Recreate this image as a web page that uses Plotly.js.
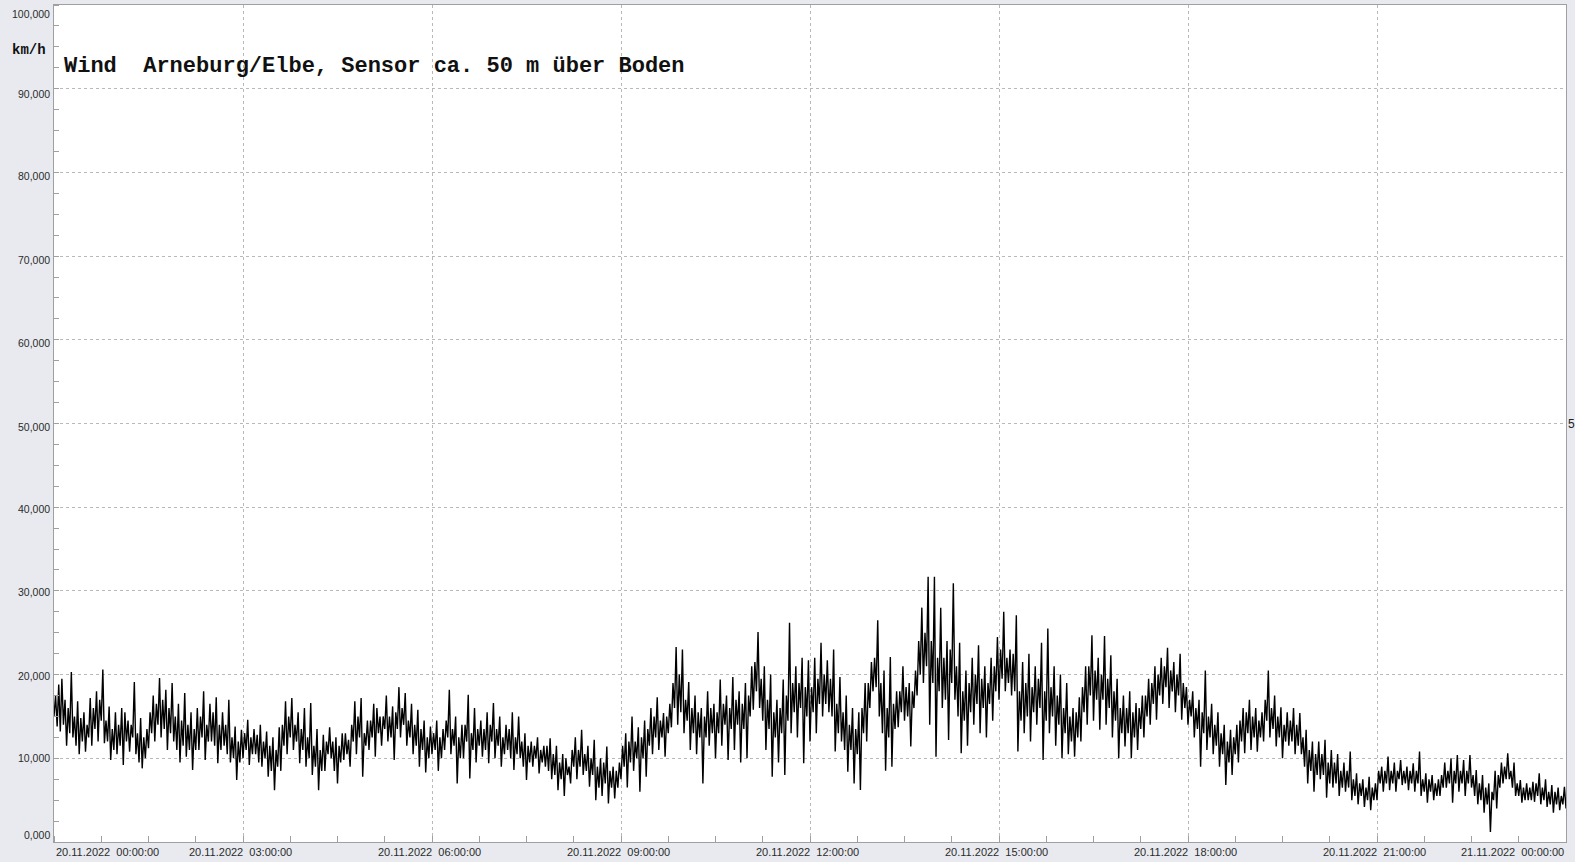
<!DOCTYPE html>
<html>
<head>
<meta charset="utf-8">
<script src="https://cdn.plot.ly/plotly-3.0.1.min.js"></script>
<style>
  html, body { margin: 0; padding: 0; background: #e8eaf0; }
  #chart { width: 1575px; height: 862px; }
</style>
</head>
<body>
<div id="chart"></div>
<script>
// Wind speed (km/h), one reading every 1.5 minutes, grouped in 3-hour blocks
const speed00to03 = [
  15,17.5,13.8,18.8, 13.2,19.5,14,17, 11.5,16,13,20.3, 12.5,15,11.5,16.8, 10.5,14.8,12,15.5,
  10.8,14,12.5,17.2, 11.5,16,13.5,18, 12,17,14.5,20.6, 11.8,14.5,12,16.2, 9.8,13.5,11,15.5,
  10.5,14,11.5,16, 9.2,15.5,12,14.5, 10.8,14,12.5,19.1, 10.5,13,9.5,14.8, 8.8,12.5,10,13.5,
  11.2,15.5,13,17.5, 12,16.5,14,19.6, 12.5,17,13.5,18.2, 11,16,13,19, 12,15,11,16.5,
  9.5,14.5,11.5,17.8, 10.2,14,11,15.5, 8.6,13.5,11,16, 11,15,12.5,18, 9.8,14,12,16.5,
  12,15.5,11.5,17.3, 9.4,14,11,15.5, 11.5,14,10.5,17, 9.5,12.5,10,13.8, 7.4,12,9.5,13.4
];
const speed03to06 = [
  10,13,11,14.6, 9.2,12.5,10.5,13.5, 10.5,12.8,9.5,14, 9,12,10,13.2, 7.8,11.5,8.5,12.5,
  6.2,11,9,13.7, 8.5,14,11.5,16.8, 10.5,15,12.5,17.2, 11,14,12,15.5, 9.4,13.5,11,16,
  9,12.5,10,16.6, 8,11.5,9,13.5, 6.2,11,8.5,12.8, 8.5,12,10.5,13.7, 10,12,8.5,12.5,
  7,11.5,9.5,13, 9.8,13,10.5,12.2, 9,14,12,16.8, 10.5,15,12.5,17.2, 7.8,13,11.5,14.5,
  11,14.5,12.5,16.5, 10.2,16,13,15, 11.5,15,13.5,17.5, 12,15,12.5,16.2, 9.8,15.5,13.5,18.5,
  12.5,16,14,17.8, 11.5,14.5,12.5,16.5, 10.5,14,11.5,15.8, 9,13.5,11,14.5, 8.3,12.5,10,13.8
];
const speed06to09 = [
  10.5,13,11,14.5, 8.5,12.5,10,13.5, 11,14.5,12.5,18.2, 10.5,13.5,11.5,15, 7,12.5,10,14,
  10,14,12,17.6, 7.6,13,11,16, 9.5,13.5,11.5,14.5, 10.2,13.5,11,15.5, 9.4,14,12,16.6,
  10,13.5,11.5,15, 9,12.5,10.5,14, 11,13.5,10,15.5, 8.6,12.5,10.5,15, 10,12,9,13,
  7.4,11.5,9.5,12, 9,11.5,10,12.5, 8.2,11,9.5,11.5, 9,11.5,8.5,12.4, 7.5,10.5,8,11.5,
  6.2,9.5,7.5,10.5, 5.5,10,8,9, 7,11,9,12.5, 7.5,11,9,13.4, 8,10.5,8.5,11.5,
  6.6,10,8,12.2, 5,9,6.5,10, 5.5,9.5,7,11.4, 4.6,8.5,6.5,9, 5.2,8.5,6.5,9.5
];
const speed09to12 = [
  7.5,11.5,9,13, 6.5,12,9.5,15, 8.5,12,10,13.7, 6,12.5,10,14.5, 7.8,13.5,11.5,16,
  10.5,15,12.5,17.3, 11,14.5,12.5,15.4, 10.2,15,13,16.5, 13.7,19,16,23.3, 14,20,15.5,23,
  13,17,14.5,19.1, 11,16,13,17.5, 10.5,15.5,12.5,16, 7,15,12.5,18, 11.5,16,13,16.5,
  10,15.5,13,19.4, 11.5,16.5,14,17.5, 9.8,16,13.5,19.7, 11,17,14,18, 9.5,16.5,13.5,19,
  10,17.5,15,21, 15.8,21.5,18,25.1, 16,19.5,14.5,21, 11,17,13.5,20, 7.8,15.5,12.5,17,
  9.5,16,13,19.4, 8,17.5,14.5,26.2, 13,19,15.5,21, 12.5,19,16,22, 9.4,18.5,15,21.7
];
const speed12to15 = [
  12,18.5,15.5,22, 13,19.5,16.5,23.8, 15,20,16.5,21.7, 15.5,19.5,15,23, 10.8,16.5,13,19.7,
  12,15.5,11,17.5, 8.4,14,11,16, 7,13.5,10.5,15.5, 6.2,16,13,19, 12,19,16,21.5,
  18,22,18.5,26.5, 15,19,13,20.5, 8.5,16,12.5,22.1, 9,16.5,13.5,18, 13.7,18,15.5,21,
  14.5,18.5,15,19, 11.4,18,16,20.5, 17.5,24,20,28, 19,25,21,31.7, 14,24,19,31.7,
  10.2,22,18,28, 16,22,17,24, 12.2,23,19,30.9, 17,21,15,23.8, 10.6,18,14.5,20.5,
  11.5,19,15.5,22, 14,20,16.5,23.5, 13,19.5,16,21, 12.5,19,16.5,22, 14.5,21,18,24.5
];
const speed15to18 = [
  17,23,19.5,27.5, 18,22,19,23, 17.5,22.5,18,27.1, 10.8,18,14.5,21.5, 13,19,15,22.5,
  12,18.5,15.5,21, 14,19.5,16,23.8, 9.8,18,14.5,25.5, 13,18.5,15,21, 11.5,17.5,14,20,
  10,16,13,19, 10.5,15,12,16, 10.2,15.5,12.5,17.3, 12,18.5,15.5,21, 14,21,17.5,24.7,
  14.5,20.5,17,22, 13.4,20,17,24.6, 14,19.5,16,22.3, 12.5,18,14.5,19.5, 10,16,13,17.5,
  11.4,16,13,18, 10,15.5,12.5,16.6, 11,16,13.5,17.5, 12.5,17.5,15,19.5, 14,19,16.5,21,
  14.6,20,17.5,22, 16.5,21,18.5,23.2, 16,20.5,18,21.5, 15.5,20,17.5,22.5, 14.6,19,16,18.5
];
const speed18to21 = [
  14,17,15,18, 12.5,16,13.5,17, 9,15.5,13,20.5, 11,15,12.5,16.5, 10.5,14,11.5,15.5,
  9,13,10.5,14, 6.8,12,9.5,13.4, 8,12.5,10.5,14, 9.5,14.5,12,16, 10.6,15.5,13,17,
  11,15,12.5,16, 10.8,14.5,12.5,15.5, 12,17,14.5,20.5, 12.5,16,13.5,17.5, 11.4,15,12.5,16.1,
  10,14,12,15.5, 11.5,14.5,12,16, 10.5,14,11.5,15.4, 10.5,12.5,9,13.4, 7,11,8.5,12,
  6,10.5,8,12, 7.5,10.5,8,12.2, 5.3,9.5,7,11, 6.5,9.5,7,10.5, 5.5,8.5,6.5,9.5,
  6,8.5,6.5,10.8, 5,7.5,5.5,8.2, 4.5,7,5.5,7.5, 4.2,6.5,5,7.8, 3.8,6.5,5,7
];
const speed21to24 = [
  5,8.5,7,9, 6,8.5,7,10.2, 6.2,8.5,7,9.5, 6,8.5,7.5,9.8, 6.8,8.5,7,9,
  6.2,8.5,7,9.4, 6,8.5,7,10.8, 5.5,7.5,6,8.2, 4.7,7.5,6,8, 5,7,5.5,7.5,
  5.5,8,6.5,9.5, 6.5,8.5,7,10, 4.7,8.5,7,10.4, 6,8.5,7,9.8, 5.5,8.5,7,10.4,
  6.5,8,5.5,8.6, 4.5,7,5,8, 3.5,6.5,4.5,7, 1.2,6,5,8.5, 4,8,6.5,9.5,
  7,9,7.5,10.6, 7.5,8.5,6.5,9.5, 5.5,7,5.5,7.4, 4.7,6.5,5,7, 5,6.5,5,7.2,
  4.8,7,5.5,8.2, 4.5,6.5,5,7.5, 4.2,6,4.5,6.8, 3.5,6,4.5,6.5, 3.8,5.5,4.5,6.6,
  4
];
const sampleStepHours = 0.025; // 1.5 minutes

// Axis ticks and labels
const xTickHours = [0, 3, 6, 9, 12, 15, 18, 21, 24];
const xTickLabels = [
  "20.11.2022  00:00:00", "20.11.2022  03:00:00", "20.11.2022  06:00:00",
  "20.11.2022  09:00:00", "20.11.2022  12:00:00", "20.11.2022  15:00:00",
  "20.11.2022  18:00:00", "20.11.2022  21:00:00", "21.11.2022  00:00:00"
];
const yTickValues = [0, 10, 20, 30, 40, 50, 60, 70, 80, 90, 100];
const yTickLabels = ["0,000", "10,000", "20,000", "30,000", "40,000", "50,000",
  "60,000", "70,000", "80,000", "90,000", "100,000"];

const chartTitle = "Wind\u00a0\u00a0Arneburg/Elbe, Sensor ca. 50 m über Boden";
const unitLabel = "km/h";

const speeds = [].concat(speed00to03, speed03to06, speed06to09, speed09to12,
  speed12to15, speed15to18, speed18to21, speed21to24);
const hours = speeds.map((_, i) => i * sampleStepHours);

const gridColor = "#b9b9b9";
const frameColor = "#a0a0a0";
const sans = "Liberation Sans, Arial, sans-serif";
const mono = "Liberation Mono, Courier New, monospace";

const annotations = xTickHours.map((h, i) => {
  const first = i === 0, last = i === xTickHours.length - 1;
  return {
    x: h, xref: "x", y: 0, yref: "paper",
    yanchor: "top", yshift: -2,
    xanchor: first ? "left" : (last ? "right" : "center"),
    xshift: (first || last) ? 0 : -3,
    text: xTickLabels[i].replace(/  /g, "\u00a0\u00a0"),
    showarrow: false,
    font: { family: sans, size: 11, color: "#2a2a2a" }
  };
});
// y tick labels (placed like the source software: top one pushed inside, bottom one lifted)
yTickValues.forEach((v, i) => {
  let shift = v === 100 ? 9 : (v === 0 ? -7 : Math.round((v - 10) / 80 * 5));
  annotations.push({
    x: 0, xref: "paper", y: v, yref: "y", xanchor: "right", yanchor: "middle",
    xshift: -2, yshift: -shift, text: yTickLabels[i], showarrow: false,
    font: { family: sans, size: 10.5, color: "#2a2a2a" }
  });
});
annotations.push({
  x: (29 - 54) / 1512, xref: "paper", y: (842 - 50) / 837, yref: "paper",
  xanchor: "center", yanchor: "middle", text: "<b>" + unitLabel + "</b>",
  showarrow: false, font: { family: mono, size: 14, color: "#111" }
});
annotations.push({
  x: 1, xref: "paper", y: 50, yref: "y", xanchor: "left", yanchor: "middle",
  xshift: 0, text: "5", showarrow: false,
  font: { family: sans, size: 12, color: "#222" }
});

const trace = {
  type: "scatter", mode: "lines",
  x: hours, y: speeds,
  line: { color: "#000000", width: 1.4, simplify: false },
  hoverinfo: "skip"
};

const layout = {
  width: 1575, height: 862,
  paper_bgcolor: "#e8eaf0", plot_bgcolor: "#ffffff",
  margin: { l: 54, r: 9, t: 5, b: 20, pad: 0 },
  showlegend: false,
  title: {
    text: "<b>" + chartTitle + "</b>",
    xref: "paper", x: (64 - 54) / 1512, xanchor: "left",
    yref: "container", y: 1 - 64 / 862, yanchor: "middle",
    font: { family: mono, size: 22, color: "#111" }
  },
  xaxis: {
    range: [0, 24], tickmode: "array", tickvals: xTickHours, showticklabels: false,
    ticks: "", showgrid: true, gridcolor: gridColor, griddash: "3px,3px", gridwidth: 1,
    showline: true, mirror: true, linecolor: frameColor, linewidth: 1, zeroline: false,
    minor: { tickmode: "linear", tick0: 0, dtick: 0.75, ticks: "inside", ticklen: 6,
             tickcolor: frameColor, showgrid: false },
    fixedrange: true
  },
  yaxis: {
    range: [0, 100], tickmode: "array", tickvals: yTickValues, showticklabels: false,
    ticks: "",
    showgrid: true, gridcolor: gridColor, griddash: "3px,3px", gridwidth: 1,
    showline: true, mirror: true, linecolor: frameColor, linewidth: 1, zeroline: false,
    minor: { tickmode: "linear", tick0: 0, dtick: 2.5, ticks: "inside", ticklen: 5,
             tickcolor: frameColor, showgrid: false },
    fixedrange: true
  },
  annotations: annotations
};

Plotly.newPlot("chart", [trace], layout, { displayModeBar: false, staticPlot: true });
</script>
</body>
</html>
